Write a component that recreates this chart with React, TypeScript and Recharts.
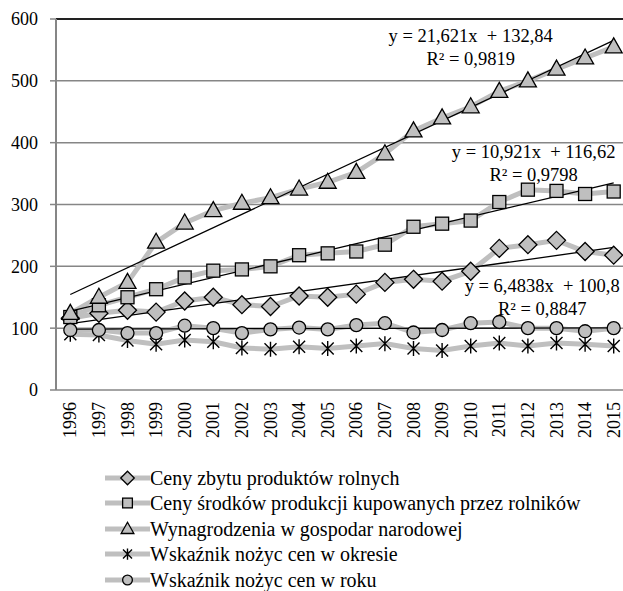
import { CartesianGrid, Legend, Line, LineChart, ReferenceDot, ReferenceLine, XAxis, YAxis } from "recharts";

const years = ["1996", "1997", "1998", "1999", "2000", "2001", "2002", "2003", "2004", "2005", "2006", "2007", "2008", "2009", "2010", "2011", "2012", "2013", "2014", "2015"];
const cenyZbytu = [116, 124, 129, 126, 144, 150, 138, 135, 152, 150, 155, 174, 179, 176, 192, 229, 235, 242, 224, 218];
const cenySrodkow = [118, 137, 150, 163, 182, 193, 195, 200, 218, 221, 224, 235, 264, 269, 274, 304, 324, 322, 317, 321];
const wynagrodzenia = [124, 150, 174, 239, 270, 290, 302, 311, 325, 336, 352, 382, 419, 440, 458, 483, 500, 519, 537, 555];
const nozyceOkres = [90, 89, 80, 74, 81, 78, 68, 66, 70, 67, 71, 75, 67, 64, 71, 76, 71, 76, 74, 71];
const nozyceRok = [97, 97, 92, 92, 104, 100, 92, 98, 101, 98, 105, 108, 93, 97, 108, 110, 100, 100, 95, 100];

// trend lines: value at first and last year
const trendWyn = [154.5, 565.3];
const trendSrod = [127.5, 335.0];
const trendZbyt = [107.3, 230.5];
const trendRok = [98.5, 100.5];

const eqWyn = ["y = 21,621x  + 132,84", "R² = 0,9819"];
const eqSrod = ["y = 10,921x  + 116,62", "R² = 0,9798"];
const eqZbyt = ["y = 6,4838x  + 100,8", "R² = 0,8847"];

const yTicks = [0, 100, 200, 300, 400, 500, 600];

const data = years.map((year, i) => ({
  x: i + 1,
  year,
  zbyt: cenyZbytu[i],
  srod: cenySrodkow[i],
  wyn: wynagrodzenia[i],
  okres: nozyceOkres[i],
  rok: nozyceRok[i],
}));

const trend = (v: number[]) => [
  { x: 1, v: v[0] },
  { x: years.length, v: v[1] },
];

const FONT = "'Liberation Serif', 'Times New Roman', serif";
const GRAY = "#bfbfbf";
const AXIS = "#868686";

type Kind = "diamond" | "square" | "triangle" | "star" | "circle";

function Marker({ kind, cx, cy, s = 1 }: { kind: Kind; cx: number; cy: number; s?: number }) {
  const common = { fill: GRAY, stroke: "#000", strokeWidth: 1.3 };
  if (kind === "diamond") {
    const d = 9 * s;
    return <path d={`M${cx},${cy - d}L${cx + d},${cy}L${cx},${cy + d}L${cx - d},${cy}Z`} {...common} />;
  }
  if (kind === "square") {
    const h = 6.5 * s;
    return <rect x={cx - h} y={cy - h} width={2 * h} height={2 * h} {...common} />;
  }
  if (kind === "triangle") {
    return (
      <path
        d={`M${cx},${cy - 9 * s}L${cx + 8.5 * s},${cy + 6 * s}L${cx - 8.5 * s},${cy + 6 * s}Z`}
        {...common}
      />
    );
  }
  if (kind === "star") {
    const a = 6 * s;
    const b = 7.5 * s;
    return (
      <path
        d={`M${cx - a},${cy - a}L${cx + a},${cy + a}M${cx + a},${cy - a}L${cx - a},${cy + a}M${cx},${cy - b}L${cx},${cy + b}`}
        stroke="#000"
        strokeWidth={1.4}
        fill="none"
      />
    );
  }
  return <circle cx={cx} cy={cy} r={6.5 * s} {...common} />;
}

const dotOf = (kind: Kind) => (p: any) => <Marker key={`${kind}-${p.index}`} kind={kind} cx={p.cx} cy={p.cy} />;

const series: { key: string; name: string; kind: Kind }[] = [
  { key: "zbyt", name: "Ceny zbytu produktów rolnych", kind: "diamond" },
  { key: "srod", name: "Ceny środków produkcji kupowanych przez rolników", kind: "square" },
  { key: "wyn", name: "Wynagrodzenia w gospodar narodowej", kind: "triangle" },
  { key: "okres", name: "Wskaźnik nożyc cen w okresie", kind: "star" },
  { key: "rok", name: "Wskaźnik nożyc cen w roku", kind: "circle" },
];

function EqLabel({ viewBox, lines }: any) {
  const cx = viewBox.x + viewBox.width / 2;
  const cy = viewBox.y + viewBox.height / 2;
  return (
    <text textAnchor="middle" dominantBaseline="central" fontFamily={FONT} fontSize={18.5} fill="#000" style={{ whiteSpace: "pre" }}>
      <tspan x={cx} y={cy - 11.5}>{lines[0]}</tspan>
      <tspan x={cx} y={cy + 11.5}>{lines[1]}</tspan>
    </text>
  );
}

function YearTick({ x, y, payload }: any) {
  return (
    <text
      x={x}
      y={y}
      transform={`rotate(-90 ${x} ${y})`}
      textAnchor="end"
      dominantBaseline="central"
      fontFamily={FONT}
      fontSize={18}
      fill="#000"
    >
      {years[payload.value - 1]}
    </text>
  );
}

function LegendRows() {
  return (
    <div style={{ fontFamily: FONT, fontSize: 20, lineHeight: "22px", color: "#000" }}>
      {series.map((s) => (
        <div key={s.key} style={{ display: "flex", alignItems: "center", height: 25.5 }}>
          <svg width={45} height={20} style={{ display: "block" }}>
            <line x1={0} y1={10} x2={45} y2={10} stroke={GRAY} strokeWidth={5} />
            <Marker kind={s.kind} cx={22.5} cy={10} s={0.75} />
          </svg>
          <span style={{ whiteSpace: "nowrap" }}>{s.name}</span>
        </div>
      ))}
    </div>
  );
}

export default function App() {
  return (
    <div style={{ position: "fixed", left: 0, top: 0, width: 623, height: 591, overflow: "hidden", background: "#fff" }}>
      <LineChart width={640} height={591} data={data} margin={{ top: 19, right: 12, bottom: 141, left: 0 }}>
        <CartesianGrid horizontal vertical={false} stroke={AXIS} strokeWidth={1.5} />
        <XAxis
          xAxisId="t"
          type="number"
          dataKey="x"
          domain={[0.5, 20.5]}
          ticks={years.map((_, i) => i + 0.5).concat([20.5])}
          tick={false}
          tickSize={6}
          height={0}
          stroke={AXIS}
          axisLine={{ stroke: AXIS, strokeWidth: 2 }}
          tickLine={{ stroke: AXIS, strokeWidth: 1.5 }}
        />
        <XAxis
          type="number"
          dataKey="x"
          domain={[0.5, 20.5]}
          ticks={years.map((_, i) => i + 1)}
          interval={0}
          axisLine={false}
          tickLine={false}
          tickSize={0}
          tickMargin={12}
          height={60}
          tick={<YearTick />}
        />
        <YAxis
          domain={[0, 600]}
          ticks={yTicks}
          width={56}
          axisLine={{ stroke: AXIS, strokeWidth: 2 }}
          tickLine={{ stroke: AXIS, strokeWidth: 1.5 }}
          tickSize={6}
          tickMargin={12}
          tick={{ fontFamily: FONT, fontSize: 18, fill: "#000" }}
        />
        <ReferenceLine y={600} stroke="#222" strokeWidth={2} />
        {series.map((s) => (
          <Line
            key={s.key}
            dataKey={s.key}
            name={s.name}
            type="linear"
            stroke={GRAY}
            strokeWidth={5}
            dot={dotOf(s.kind)}
            activeDot={false}
            isAnimationActive={false}
          />
        ))}
        <Line data={trend(trendWyn)} dataKey="v" stroke="#000" strokeWidth={1.3} dot={false} activeDot={false} legendType="none" isAnimationActive={false} />
        <Line data={trend(trendSrod)} dataKey="v" stroke="#000" strokeWidth={1.3} dot={false} activeDot={false} legendType="none" isAnimationActive={false} />
        <Line data={trend(trendZbyt)} dataKey="v" stroke="#000" strokeWidth={1.3} dot={false} activeDot={false} legendType="none" isAnimationActive={false} />
        <Line data={trend(trendRok)} dataKey="v" stroke="#000" strokeWidth={1.3} dot={false} activeDot={false} legendType="none" isAnimationActive={false} />
        <ReferenceDot x={15} y={554} r={0} fill="none" stroke="none" label={<EqLabel lines={eqWyn} />} />
        <ReferenceDot x={17.2} y={366} r={0} fill="none" stroke="none" label={<EqLabel lines={eqSrod} />} />
        <ReferenceDot x={17.5} y={150} r={0} fill="none" stroke="none" label={<EqLabel lines={eqZbyt} />} />
        <Legend
          layout="vertical"
          align="center"
          verticalAlign="middle"
          content={<LegendRows />}
          wrapperStyle={{ top: 465, left: 105, width: 520 }}
        />
      </LineChart>
    </div>
  );
}
